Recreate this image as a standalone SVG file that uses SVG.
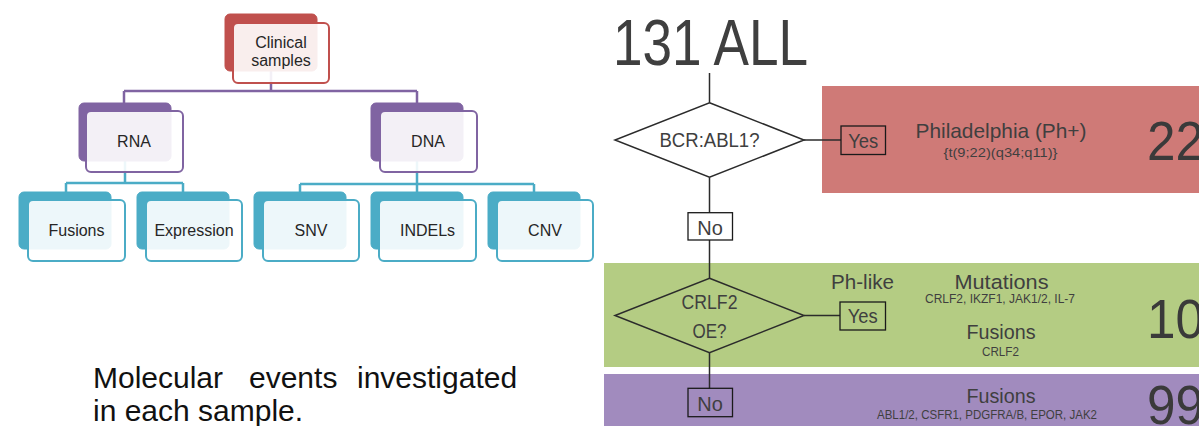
<svg xmlns="http://www.w3.org/2000/svg" width="1199" height="426" viewBox="0 0 1199 426">
  <style>
    .back { stroke: none; }
    .front { fill: #ffffff; fill-opacity: 0.9; stroke-width: 2; }
    .red { fill: #c0504d; stroke: #c0504d; }
    .pur { fill: #8064a2; stroke: #8064a2; }
    .teal { fill: #4bacc6; stroke: #4bacc6; }
    .lbl { font-family: "Liberation Sans", Arial, sans-serif; font-size: 16px; fill: #262626; text-anchor: middle; }
    .caption { font-family: "Liberation Sans", Arial, sans-serif; font-size: 30px; fill: #111111; }
    .flow { fill: none; stroke: #2b2b2b; stroke-width: 1.5; }
    .tag { fill: none; stroke: #1a1a1a; stroke-width: 1.3; }
    .t { font-family: "Liberation Sans", Arial, sans-serif; fill: #3f3f3f; text-anchor: middle; }
    .big { font-family: "Liberation Sans", Arial, sans-serif; font-size: 56px; fill: #3a3a3a; }
  </style>

  <rect width="1199" height="426" fill="#ffffff"/>

  <!-- hierarchy connectors -->
  <g id="tree-connectors" fill="none" stroke-width="2.5">
    <path stroke="#8064a2" d="M271,71 V91 M124,91 H417 M124,91 V103 M417,91 V103"/>
    <path stroke="#4bacc6" d="M125,161 V183 M66,183 H183 M66,183 V192 M183,183 V192"/>
    <path stroke="#4bacc6" d="M417,161 V184 M300,184 H534 M300,184 V192 M417,184 V192 M534,184 V192"/>
  </g>

  <!-- hierarchy nodes -->
  <g id="node-clinical">
    <rect class="back red" x="225" y="14" width="92" height="57" rx="5"/>
    <rect class="front" stroke="#c0504d" x="233" y="23" width="96" height="60" rx="5"/>
    <text class="lbl" x="281" y="48">Clinical</text>
    <text class="lbl" x="281" y="66">samples</text>
  </g>
  <g id="node-rna">
    <rect class="back pur" x="79" y="103" width="92" height="58" rx="5"/>
    <rect class="front" stroke="#8064a2" x="86" y="111" width="97" height="61" rx="5"/>
    <text class="lbl" x="134" y="147">RNA</text>
  </g>
  <g id="node-dna">
    <rect class="back pur" x="371" y="103" width="92" height="58" rx="5"/>
    <rect class="front" stroke="#8064a2" x="380" y="111" width="97" height="61" rx="5"/>
    <text class="lbl" x="428" y="147">DNA</text>
  </g>
  <g id="node-fusions">
    <rect class="back teal" x="19" y="192" width="92" height="57" rx="5"/>
    <rect class="front" stroke="#4bacc6" x="28" y="200" width="97" height="61" rx="5"/>
    <text class="lbl" x="76.5" y="236">Fusions</text>
  </g>
  <g id="node-expression">
    <rect class="back teal" x="137" y="192" width="92" height="57" rx="5"/>
    <rect class="front" stroke="#4bacc6" x="146" y="200" width="96" height="61" rx="5"/>
    <text class="lbl" x="194" y="236">Expression</text>
  </g>
  <g id="node-snv">
    <rect class="back teal" x="254" y="192" width="92" height="57" rx="5"/>
    <rect class="front" stroke="#4bacc6" x="263" y="200" width="96" height="61" rx="5"/>
    <text class="lbl" x="311" y="236">SNV</text>
  </g>
  <g id="node-indels">
    <rect class="back teal" x="371" y="192" width="92" height="57" rx="5"/>
    <rect class="front" stroke="#4bacc6" x="379" y="200" width="97" height="61" rx="5"/>
    <text class="lbl" x="427.5" y="236">INDELs</text>
  </g>
  <g id="node-cnv">
    <rect class="back teal" x="488" y="192" width="92" height="57" rx="5"/>
    <rect class="front" stroke="#4bacc6" x="497" y="200" width="96" height="61" rx="5"/>
    <text class="lbl" x="545" y="236">CNV</text>
  </g>

  <!-- caption -->
  <g id="caption">
    <text class="caption" x="93" y="388">Molecular</text>
    <text class="caption" x="249" y="388">events</text>
    <text class="caption" x="357" y="388">investigated</text>
    <text class="caption" x="93" y="421">in each sample.</text>
  </g>

  <!-- result bands -->
  <g id="band-ph-positive">
    <rect x="822" y="86" width="377" height="107" fill="#cf7a77"/>
    <text class="t" x="1001" y="138" font-size="20.8px" textLength="171" lengthAdjust="spacingAndGlyphs">Philadelphia (Ph+)</text>
    <text class="t" x="1000.5" y="157" font-size="13px" textLength="114" lengthAdjust="spacingAndGlyphs">{t(9;22)(q34;q11)}</text>
    <text class="big" x="1147" y="160" textLength="57" lengthAdjust="spacingAndGlyphs">22</text>
  </g>
  <g id="band-ph-like">
    <rect x="604" y="263" width="595" height="104" fill="#b4cc83"/>
    <text class="t" x="862.5" y="289" font-size="20.5px" textLength="63" lengthAdjust="spacingAndGlyphs">Ph-like</text>
    <text class="t" x="1001.5" y="289" font-size="20.5px" textLength="94" lengthAdjust="spacingAndGlyphs">Mutations</text>
    <text class="t" x="1000" y="303" font-size="12.5px" textLength="150" lengthAdjust="spacingAndGlyphs">CRLF2, IKZF1, JAK1/2, IL-7</text>
    <text class="t" x="1001" y="339" font-size="20.5px" textLength="69" lengthAdjust="spacingAndGlyphs">Fusions</text>
    <text class="t" x="1000.5" y="356" font-size="12.5px" textLength="37" lengthAdjust="spacingAndGlyphs">CRLF2</text>
    <text class="big" x="1147" y="338" textLength="57" lengthAdjust="spacingAndGlyphs">10</text>
  </g>
  <g id="band-other">
    <rect x="604" y="374" width="595" height="52" fill="#a18bbe"/>
    <text class="t" x="1001" y="403" font-size="20.5px" textLength="69" lengthAdjust="spacingAndGlyphs">Fusions</text>
    <text class="t" x="987" y="419" font-size="12.5px" textLength="220" lengthAdjust="spacingAndGlyphs">ABL1/2, CSFR1, PDGFRA/B, EPOR, JAK2</text>
    <text class="big" x="1147" y="424" textLength="57" lengthAdjust="spacingAndGlyphs">99</text>
  </g>

  <!-- title -->
  <g id="title">
    <text x="613" y="65" font-family="'Liberation Sans', Arial, sans-serif" font-size="64px" fill="#3f3f3f" textLength="195" lengthAdjust="spacingAndGlyphs">131 ALL</text>
  </g>

  <!-- decision flow connectors -->
  <g id="flow-connectors" class="flow">
    <path d="M709.5,73 V102.7"/>
    <path d="M804,140 H841"/>
    <path d="M709.5,177.3 V212.7"/>
    <path d="M709.5,240 V278.3"/>
    <path d="M804,315.5 H840"/>
    <path d="M709.5,352.7 V388.3"/>
  </g>

  <!-- decisions -->
  <g id="decision-bcr-abl1">
    <polygon class="flow" points="709.5,102.7 804,140 709.5,177.3 615,140"/>
    <text class="t" x="709.5" y="147" font-size="19.5px" textLength="100" lengthAdjust="spacingAndGlyphs">BCR:ABL1?</text>
  </g>
  <g id="decision-crlf2">
    <polygon class="flow" points="709.5,278.3 804,315.5 709.5,352.7 615,315.5"/>
    <text class="t" x="709.5" y="309" font-size="19.5px" textLength="56" lengthAdjust="spacingAndGlyphs">CRLF2</text>
    <text class="t" x="709.5" y="338" font-size="19.5px" textLength="34" lengthAdjust="spacingAndGlyphs">OE?</text>
  </g>

  <!-- answer tags -->
  <g id="tag-yes-1">
    <rect class="tag" x="841" y="126" width="44.5" height="28.5"/>
    <text class="t" x="863.3" y="147.5" font-size="20px" textLength="30" lengthAdjust="spacingAndGlyphs">Yes</text>
  </g>
  <g id="tag-no-1">
    <rect class="tag" x="688" y="212.7" width="44.5" height="27.3" fill="#ffffff"/>
    <text class="t" x="710" y="235" font-size="20px">No</text>
  </g>
  <g id="tag-yes-2">
    <rect class="tag" x="840" y="302" width="45.5" height="28"/>
    <text class="t" x="862.8" y="323" font-size="20px" textLength="30" lengthAdjust="spacingAndGlyphs">Yes</text>
  </g>
  <g id="tag-no-2">
    <rect class="tag" x="688" y="388.3" width="44.5" height="28.4"/>
    <text class="t" x="710" y="410.5" font-size="20px">No</text>
  </g>
</svg>
